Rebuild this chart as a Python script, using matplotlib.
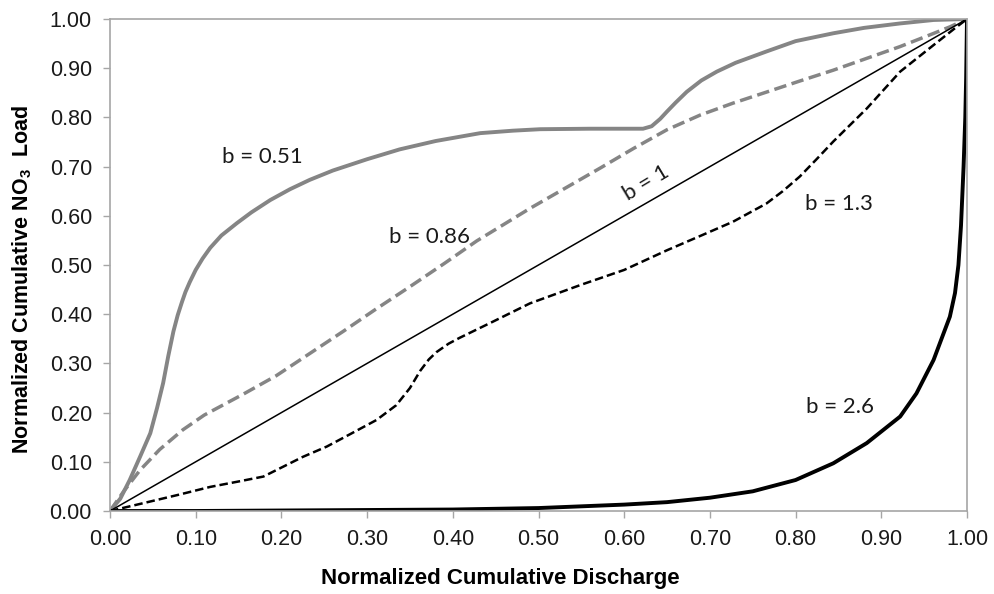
import matplotlib
matplotlib.use("Agg")
import matplotlib.pyplot as plt

# b = 0.51 (grey, solid)
x_051 = [0.0, 0.012, 0.023, 0.035, 0.047, 0.055, 0.062, 0.068, 0.074, 0.079, 0.084, 0.088,
         0.093, 0.10, 0.108, 0.117, 0.13, 0.148, 0.165, 0.187, 0.21, 0.233, 0.26, 0.30,
         0.338, 0.38, 0.432, 0.47, 0.502, 0.56, 0.622, 0.632, 0.642, 0.65, 0.66, 0.673,
         0.69, 0.708, 0.73, 0.766, 0.80, 0.844, 0.88, 0.922, 0.961, 1.0]
y_051 = [0.0, 0.025, 0.063, 0.11, 0.158, 0.21, 0.26, 0.315, 0.365, 0.398, 0.425, 0.445,
         0.465, 0.49, 0.513, 0.535, 0.56, 0.585, 0.607, 0.632, 0.654, 0.673, 0.692, 0.715,
         0.735, 0.752, 0.768, 0.773, 0.776, 0.777, 0.777, 0.782, 0.797, 0.812, 0.83, 0.852,
         0.875, 0.893, 0.911, 0.934, 0.955, 0.971, 0.982, 0.991, 0.998, 1.0]

# b = 0.86 (grey, dashed)
x_086 = [0.0, 0.016, 0.035, 0.058, 0.085, 0.11, 0.155, 0.194, 0.233, 0.272, 0.31, 0.35,
         0.39, 0.428, 0.46, 0.49, 0.53, 0.572, 0.611, 0.65, 0.689, 0.727, 0.767, 0.805,
         0.844, 0.883, 0.922, 0.96, 0.98, 1.0]
y_086 = [0.0, 0.04, 0.083, 0.125, 0.165, 0.195, 0.237, 0.275, 0.32, 0.365, 0.41, 0.456,
         0.503, 0.549, 0.583, 0.615, 0.655, 0.697, 0.737, 0.775, 0.805, 0.829, 0.852, 0.874,
         0.896, 0.92, 0.944, 0.97, 0.984, 1.0]

# b = 1 (black, thin)
x_1 = [0.0, 1.0]
y_1 = [0.0, 1.0]

# b = 1.3 (black, dashed)
x_13 = [0.0, 0.039, 0.08, 0.117, 0.15, 0.179, 0.202, 0.225, 0.253, 0.28, 0.311, 0.334,
        0.35, 0.362, 0.372, 0.381, 0.395, 0.408, 0.447, 0.49, 0.55, 0.6, 0.65, 0.69,
        0.727, 0.766, 0.785, 0.805, 0.825, 0.844, 0.883, 0.922, 0.961, 0.985, 1.0]
y_13 = [0.0, 0.016, 0.033, 0.049, 0.06, 0.07, 0.09, 0.11, 0.131, 0.156, 0.185, 0.215,
        0.25, 0.285, 0.308, 0.323, 0.34, 0.352, 0.385, 0.422, 0.46, 0.49, 0.53, 0.56,
        0.588, 0.625, 0.65, 0.68, 0.716, 0.751, 0.818, 0.893, 0.947, 0.98, 1.0]

# b = 2.6 (black, thick)
x_26 = [0.0, 0.1, 0.2, 0.3, 0.4, 0.5, 0.6, 0.65, 0.7, 0.75, 0.8, 0.844, 0.883, 0.922,
        0.941, 0.961, 0.98, 0.986, 0.99, 0.993, 0.996, 0.998, 0.999, 1.0]
y_26 = [0.0, 0.0, 0.001, 0.002, 0.003, 0.006, 0.013, 0.018, 0.027, 0.04, 0.063, 0.097,
        0.138, 0.192, 0.239, 0.307, 0.395, 0.443, 0.50, 0.58, 0.70, 0.80, 0.88, 1.0]

tick_vals = [0.0, 0.1, 0.2, 0.3, 0.4, 0.5, 0.6, 0.7, 0.8, 0.9, 1.0]
tick_labels = ["%.2f" % v for v in tick_vals]

labels = ["b = 0.51", "b = 0.86", "b = 1", "b = 1.3", "b = 2.6"]
label_xy = [(0.178, 0.72), (0.373, 0.557), (0.626, 0.667), (0.85, 0.624), (0.852, 0.211)]
label_rot = [0, 0, 31, 0, 0]

plt.rcParams["font.family"] = ["Liberation Sans", "DejaVu Sans"]
plt.rcParams["mathtext.fontset"] = "custom"
plt.rcParams["mathtext.rm"] = "Liberation Sans:bold"
plt.rcParams["mathtext.default"] = "rm"

grey = "#858585"
spine_col = "#a6a6a6"

fig = plt.figure(figsize=(9.94, 5.94), dpi=100)
ax = fig.add_axes([110 / 994, 1 - 511 / 594, 857 / 994, 492 / 594])

ax.plot(x_051, y_051, color=grey, lw=2.8, solid_capstyle="round", solid_joinstyle="round")
ax.plot(x_086, y_086, color=grey, lw=2.5, dashes=(3.6, 1.6))
ax.plot(x_1, y_1, color="black", lw=1.1)
ax.plot(x_13, y_13, color="black", lw=1.8, dashes=(3.4, 1.6))
ax.plot(x_26, y_26, color="black", lw=2.8, solid_joinstyle="round")

for txt, (tx, ty), rot in zip(labels, label_xy, label_rot):
    ax.text(tx, ty, txt, fontsize=16, family="Lato", ha="center", va="center",
            rotation=rot, color="#1a1a1a")

ax.set_xlim(0, 1)
ax.set_ylim(0, 1)
ax.set_xticks(tick_vals)
ax.set_xticklabels(tick_labels)
ax.set_yticks(tick_vals)
ax.set_yticklabels(tick_labels)
ax.tick_params(axis="both", direction="out", length=5, width=1, color=spine_col,
               labelsize=15.5, labelcolor="#1a1a1a")
ax.tick_params(axis="x", pad=8)
ax.tick_params(axis="y", pad=8)
for s in ax.spines.values():
    s.set_color(spine_col)
    s.set_linewidth(1.2)

ax.set_xlabel("Normalized Cumulative Discharge", fontsize=16, fontweight="bold")
ax.xaxis.set_label_coords(0.455, -0.137)
ax.xaxis.label.set_va("center")
ax.set_ylabel("Normalized Cumulative NO$_3$  Load", fontsize=15.5, fontweight="bold")
ax.yaxis.set_label_coords(-0.103, 0.47)
ax.yaxis.label.set_va("center")

fig.savefig("out.png", dpi=100)
